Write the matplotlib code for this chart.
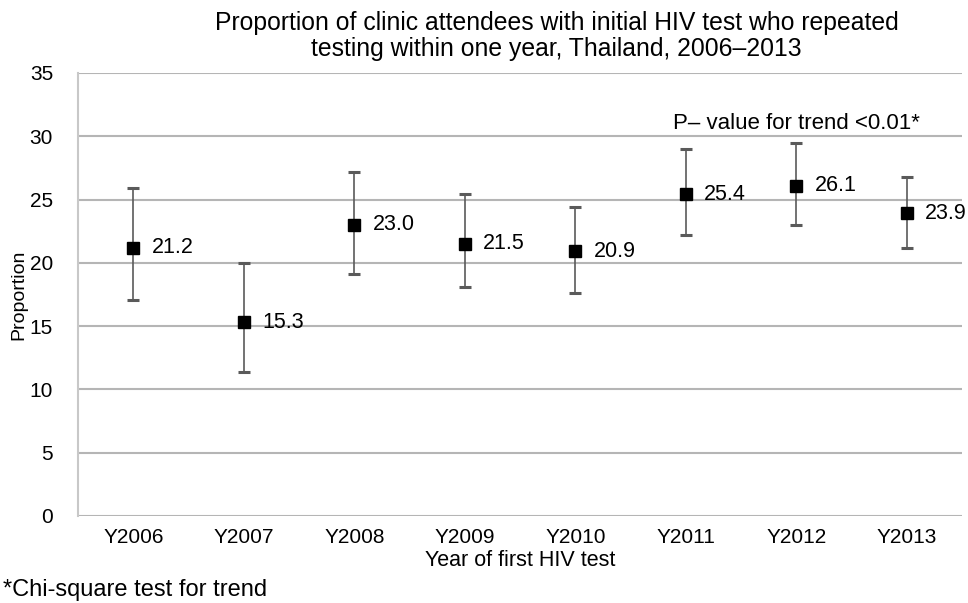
import numpy as np
import matplotlib
matplotlib.use("Agg")
import matplotlib.pyplot as plt

plt.rcParams['font.family'] = ['Liberation Sans', 'DejaVu Sans']

years = ["Y2006", "Y2007", "Y2008", "Y2009", "Y2010", "Y2011", "Y2012", "Y2013"]
prop = [21.2, 15.3, 23.0, 21.5, 20.9, 25.4, 26.1, 23.9]
ci_low = [17.1, 11.4, 19.1, 18.1, 17.6, 22.2, 23.0, 21.2]
ci_high = [25.9, 20.0, 27.2, 25.4, 24.4, 29.0, 29.5, 26.8]

fig = plt.figure(figsize=(9.68, 6.03), dpi=100)
ax = fig.add_axes([0.0806, 0.1443, 0.9134, 0.7347])

x = np.arange(len(years))
p = np.array(prop)
yerr = [p - np.array(ci_low), np.array(ci_high) - p]
ax.errorbar(x, p, yerr=yerr, fmt='s', color='black', ms=9,
            ecolor='#5a5a5a', elinewidth=1.2, capsize=4.5, capthick=2.2, zorder=3)
for xi, v in zip(x, prop):
    ax.text(xi + 0.165, v, f"{v:.1f}", fontsize=15.5, va='center', ha='left')

ax.set_xlim(-0.5, len(years) - 0.5)
ax.set_ylim(0, 35)
ax.set_yticks(range(0, 36, 5))
ax.set_xticks(x)
ax.set_xticklabels(years)
ax.yaxis.grid(True, color='#b5b5b5', lw=1.5)
ax.set_axisbelow(True)
for s in ['top', 'right', 'bottom']:
    ax.spines[s].set_visible(False)
ax.spines['left'].set_color('#c8c8c8')
ax.spines['left'].set_linewidth(1.5)
ax.tick_params(length=0, labelsize=15, pad=9)
ax.tick_params(axis='y', pad=18)

ax.set_xlabel("Year of first HIV test", fontsize=15.5, labelpad=2)
ax.set_ylabel("Proportion", fontsize=14)
ax.yaxis.set_label_coords(-0.057, 0.5)
fig.text(0.575, 0.982, "Proportion of clinic attendees with initial HIV test who repeated\n"
         "testing within one year, Thailand, 2006\u20132013", fontsize=17.8,
         ha='center', va='top', linespacing=1.1)
ax.text(6.0, 31.0, "P\u2013 value for trend <0.01*", fontsize=16, va='center', ha='center')
fig.text(0.003, 0.022, "*Chi-square test for trend", fontsize=17, ha='left', va='center')

fig.savefig("out.png", dpi=100)
